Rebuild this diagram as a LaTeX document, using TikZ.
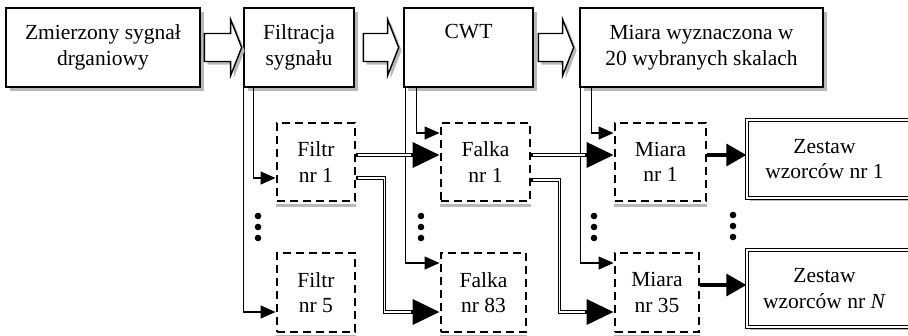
\documentclass[tikz,border=0pt]{standalone}
\usepackage{fontspec}
\setmainfont{Liberation Serif}
\usetikzlibrary{arrows.meta,calc,shadows}
\begin{document}
\begin{tikzpicture}[x=1pt,y=-1pt,
  every node/.style={font=\fontsize{21.5}{25.5}\selectfont, align=center, inner sep=0pt},
  topbox/.style={draw, line width=2.7pt, fill=white,
    drop shadow={shadow xshift=4pt,shadow yshift=-4pt,fill=black!28,opacity=1}},
  dbox/.style={draw, line width=2.9pt, dash pattern=on 8pt off 5pt, fill=white},
  zbox/.style={draw, line width=1.3pt, double, double distance=1.6pt, fill=white,
    drop shadow={shadow xshift=3pt,shadow yshift=-3pt,fill=black!28,opacity=1}},
  tarrow/.style={line width=1.3pt, -{Triangle[length=15pt,width=13pt]}},
  dblarrow/.style={line width=3.8pt, -{Triangle[length=27pt,width=25pt]},
    postaction={draw=white, line width=1.5pt, -, shorten >=29pt, shorten <=1.5pt}},
  marrow/.style={line width=3.2pt, -{Triangle[length=20pt,width=22pt]}},
  blockarr/.style={draw, line width=1.4pt, fill=white, line join=miter},
  shd/.style={fill=black!28},
  dot/.style={fill=black}
]
\useasboundingbox (0,0) rectangle (908,335);

% top row
\node[topbox, minimum width=194pt, minimum height=79pt] (b1) at (103,47.5) {Zmierzony sygnał\\drganiowy};
\node[topbox, minimum width=110pt, minimum height=79pt] (b2) at (299,47.5) {Filtracja\\sygnału};
\node[topbox, minimum width=129pt, minimum height=79pt] (b3) at (468.5,47.5) {CWT\\\strut};
\node[topbox, minimum width=243pt, minimum height=79pt] (b4) at (701.5,47.5) {Miara wyznaczona w\\20 wybranych skalach};

% dashed boxes
\node[dbox, minimum width=78pt, minimum height=78pt] (f1) at (316,162) {Filtr\\nr 1};
\node[dbox, minimum width=78pt, minimum height=79pt] (f5) at (316,292.5) {Filtr\\nr 5};
\node[dbox, minimum width=89pt, minimum height=78pt] (w1) at (485.5,162) {Falka\\nr 1};
\node[dbox, minimum width=85pt, minimum height=79pt] (w83) at (483.5,292.5) {Falka\\nr 83};
\node[dbox, minimum width=91pt, minimum height=78pt] (m1) at (660.5,162) {Miara\\nr 1};
\node[dbox, minimum width=84pt, minimum height=79pt] (m35) at (657,292.5) {Miara\\nr 35};

% shadows under dashed boxes
\foreach \n in {f1,f5,w1,w83,m1,m35}{
  \draw[black!28, line width=3pt] ([yshift=-3.5pt]\n.south west) -- ([yshift=-3.5pt]\n.south east);
}

% result boxes
\node[zbox, minimum width=165pt, minimum height=78pt,
  label={[xshift=-5pt]center:{Zestaw\\wzorców nr 1}}] (z1) at (829.5,159) {};
\node[zbox, minimum width=165pt, minimum height=77pt,
  label={[xshift=-5pt]center:{Zestaw\\wzorców nr \textit{N}}}] (zN) at (829.5,288.5) {};

% hollow block arrows between top boxes
\foreach \a/\b/\s/\e in {b1/b2/3/1, b2/b3/8/4, b3/b4/4/5}{
  \path ($(\a.east)+(\s,0)$) coordinate (ba1) ($(\b.west)+(-\e,0)$) coordinate (ba2);
  \fill[shd] ($(ba1)+(3,-11)$) -- ($(ba2)+(-8,-11)$) -- ($(ba2)+(-8,-25)$) -- ($(ba2)+(3,3)$)
     -- ($(ba2)+(-8,31)$) -- ($(ba2)+(-8,17)$) -- ($(ba1)+(3,17)$) -- cycle;
  \draw[blockarr] ($(ba1)+(0,-14)$) -- ($(ba2)+(-11,-14)$) -- ($(ba2)+(-11,-28)$) -- (ba2)
     -- ($(ba2)+(-11,28)$) -- ($(ba2)+(-11,14)$) -- ($(ba1)+(0,14)$) -- cycle;
}

% thin branch connectors
\draw[tarrow] ($(b2.south west)+(0.5,0)$) |- ($(f5.west)+(0,19.5)$);
\draw[tarrow] ($(b2.south west)+(11,0)$) |- ($(f1.west)+(0,16)$);
\draw[tarrow] ($(b3.south west)+(3,0)$) |- ($(w83.west)+(0,-29.5)$);
\draw[tarrow] ($(b3.south west)+(14,0)$) |- ($(w1.west)+(0,-29)$);
\draw[tarrow] ($(b4.south west)+(2,0)$) |- ($(m35.west)+(0,-29.5)$);
\draw[tarrow] ($(b4.south west)+(13,0)$) |- ($(m1.west)+(0,-29)$);

% double connectors
\coordinate (c1) at ($(f1.east)+(0,-7)$);
\draw[dblarrow] (c1) -- (c1 -| w1.west);
\coordinate (c2) at ($(f1.east)+(0,16)$);
\draw[dblarrow] (c2) -- ++(28,0) |- ($(w83.west)+(0,19.5)$);
\coordinate (c3) at ($(w1.east)+(0,-7)$);
\draw[dblarrow] (c3) -- (c3 -| m1.west);
\coordinate (c4) at ($(w1.east)+(0,18)$);
\draw[dblarrow] (c4) -- ++(28,0) |- ($(m35.west)+(0,19.5)$);

% to result boxes
\coordinate (c5) at ($(m1.east)+(0,-7)$);
\draw[marrow] (c5) -- (c5 -| z1.west);
\coordinate (c6) at ($(m35.east)+(0,-7.5)$);
\draw[marrow] (c6) -- (c6 -| zN.west);

% ellipsis dots
\foreach \x/\yy in {258/0, 421/0, 594/0, 733/-1}{
  \foreach \y in {216,227,238}{
    \fill[dot] (\x,\y+\yy) circle (3.3);
  }
}
\end{tikzpicture}
\end{document}
